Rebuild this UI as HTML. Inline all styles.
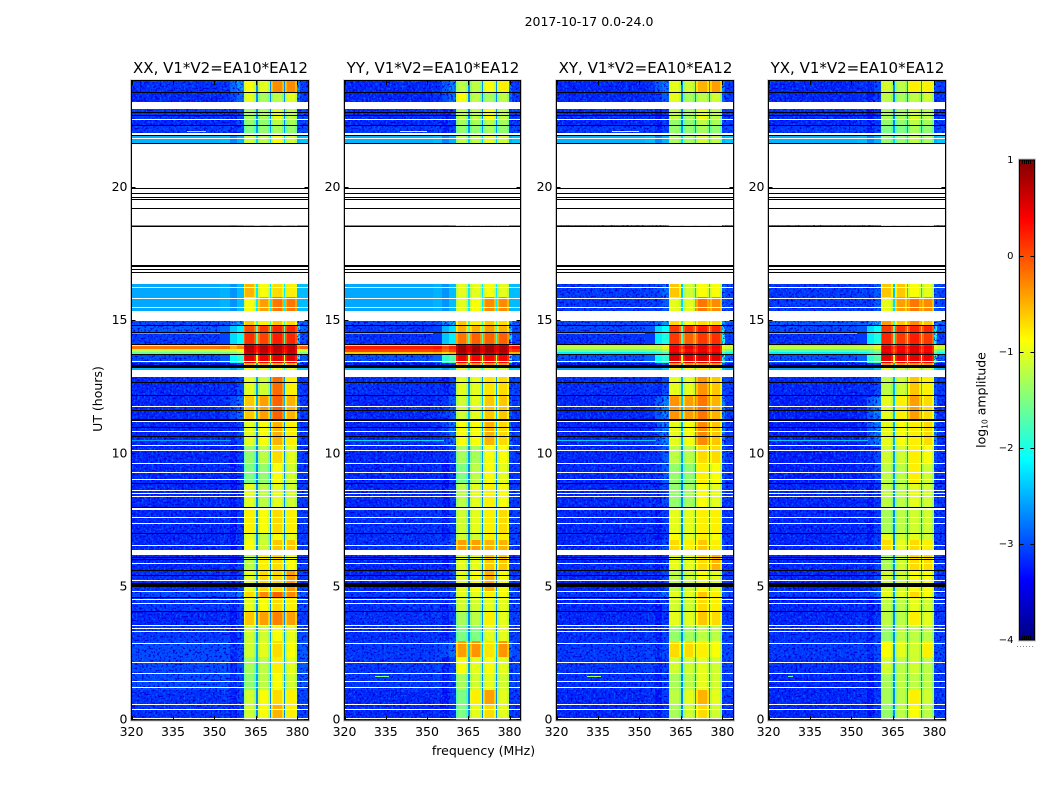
<!DOCTYPE html>
<html lang="en">
<head>
<meta charset="utf-8">
<title>2017-10-17 0.0-24.0</title>
<style>
html,body{margin:0;padding:0;background:#fff;}
svg{display:block;}
text{font-family:"DejaVu Sans","Liberation Sans",sans-serif;fill:#000;}
</style>
</head>
<body>
<svg id="figure" xmlns="http://www.w3.org/2000/svg" width="1050" height="800" viewBox="0 0 1050 800" shape-rendering="crispEdges">
<defs>
<filter id="grain-light" x="0" y="0" width="100%" height="100%" color-interpolation-filters="sRGB">
<feTurbulence type="fractalNoise" baseFrequency="0.5 0.42" numOctaves="2" seed="4"/>
<feColorMatrix type="matrix" values="0 0 0 0 0  0 0 0 0 0.36  0 0 0 0 1  6 0 0 0 -3.1"/>
</filter>
<filter id="grain-dark" x="0" y="0" width="100%" height="100%" color-interpolation-filters="sRGB">
<feTurbulence type="fractalNoise" baseFrequency="0.45 0.5" numOctaves="2" seed="11"/>
<feColorMatrix type="matrix" values="0 0 0 0 0  0 0 0 0 0  0 0 0 0 0.85  0 6 0 0 -3.2"/>
</filter>
</defs>
</svg>
<script>
// ---- categories and axis labels ----
const panelTitles = ["XX, V1*V2=EA10*EA12", "YY, V1*V2=EA10*EA12", "XY, V1*V2=EA10*EA12", "YX, V1*V2=EA10*EA12"];
const freqTicks = [320, 335, 350, 365, 380];
const hourTicks = [0, 5, 10, 15, 20];
const colorbarTicks = [1, 0, -1, -2, -3, -4];

// ---- time bands, hours UT ----
const bandTop    = [24,23.58,22.93,22.57,22.36,21.96,18.59,16.36,15.87,14.98,14.85,14.57,14.12,14.03,13.92,13.84,13.73,13.39,13.28,12.9,12.21,11.31,10.31,9.67,8.92,7.87,7.04,6.75,6.18,5.62,4.86,4.6,4.11,3.55,2.95,2.35,1.78,1.11,0.55];
const bandBottom = [23.58,23.2,22.57,22.36,22.03,21.69,18.53,15.87,15.38,14.85,14.57,14.12,14.03,13.92,13.84,13.73,13.39,13.28,13.15,12.21,11.31,10.31,9.67,8.92,7.98,7.04,6.75,6.37,5.62,4.86,4.6,4.11,3.55,2.95,2.35,1.78,1.11,0.55,0];

// ---- log10 amplitude per band: [below 355 MHz, shoulder, sub-band 1, 2, 3, 4, sub-band gap] ----
const levelsXX = [
[-3.15,-2.6,-0.9,-1.0,-0.3,-0.3,-2.7],[-3.2,-2.8,-1.0,-1.3,-1.2,-1.0,-2.7],[-3.1,-3.0,-1.3,-1.3,-1.0,-1.2,-2.7],[-3.2,-3.0,-1.4,-1.4,-1.2,-1.3,-2.7],[-3.1,-3.0,-1.5,-1.4,-1.3,-1.4,-2.6],
[-2.5,-2.5,-1.1,-1.2,-0.9,-1.1,-2.3],[-2.5,-2.4,-0.4,-0.4,-0.4,-0.4,-1.5],[-2.55,-2.45,-0.5,-0.9,-0.7,-0.8,-2.2],[-2.55,-2.45,-0.9,-0.4,-0.2,-0.2,-2.2],[-3.0,-2.5,-0.6,-0.8,-0.6,-0.7,-1.8],
[-2.9,-2.2,0.0,0.1,0.2,0.2,-1.7],[-3.1,-2.1,0.15,0.05,0.25,0.2,-1.7],[-0.9,-0.6,0.6,0.6,0.7,0.6,0.2],[-0.2,-0.3,0.75,0.75,0.75,0.7,0.3],[-1.2,-0.9,0.7,0.7,0.7,0.65,0.2],
[-1.6,-1.3,0.6,0.6,0.65,0.6,0.0],[-3.0,-1.9,0.5,0.45,0.5,0.5,-1.1],[-3.5,-3.0,-0.5,-0.5,-0.5,-0.5,-2.5],[-2.5,-2.4,-0.9,-1.0,-0.9,-1.0,-2.0],[-3.2,-3.0,-1.0,-1.1,-0.15,-0.8,-2.6],
[-3.2,-2.8,-0.6,-0.4,-0.1,-0.5,-2.5],[-3.2,-3.0,-1.0,-0.9,-0.5,-0.8,-2.7],[-3.2,-3.1,-1.4,-1.2,-0.7,-1.0,-2.7],[-3.2,-3.1,-1.5,-1.4,-0.9,-1.1,-2.7],[-3.2,-3.1,-1.0,-1.2,-1.0,-1.1,-2.7],
[-3.2,-3.1,-0.8,-0.9,-0.7,-0.8,-2.7],[-3.2,-3.1,-1.0,-1.2,-0.9,-1.0,-2.7],[-3.2,-3.1,-0.9,-1.1,-0.6,-0.6,-2.7],[-3.2,-3.1,-1.2,-0.8,-0.7,-0.9,-2.7],[-3.15,-3.0,-1.0,-0.7,-0.7,-0.4,-2.6],
[-3.0,-2.7,-0.7,-0.3,-0.1,-0.3,-2.5],[-3.1,-3.0,-1.0,-0.9,-0.7,-0.8,-2.7],[-3.2,-3.1,-0.6,-0.4,-0.25,-0.4,-2.7],[-3.1,-3.05,-1.1,-1.1,-0.9,-1.0,-2.6],[-3.0,-3.0,-1.1,-1.0,-0.7,-0.9,-2.5],
[-3.0,-3.0,-1.3,-1.2,-0.8,-1.0,-2.5],[-3.0,-3.0,-1.4,-1.2,-0.9,-1.1,-2.6],[-3.15,-3.05,-1.1,-0.9,-0.7,-0.8,-2.7],[-3.15,-3.05,-1.1,-0.9,-0.5,-0.8,-2.7]];
const levelsYY = [
[-3.2,-2.7,-1.2,-1.2,-0.9,-0.8,-2.7],[-3.2,-2.8,-0.9,-1.2,-1.3,-1.2,-2.7],[-3.15,-3.1,-1.2,-1.2,-0.9,-1.2,-2.7],[-3.2,-3.1,-1.3,-1.3,-1.2,-1.3,-2.7],[-3.1,-3.05,-1.4,-1.4,-1.3,-1.4,-2.6],
[-2.5,-2.5,-1.2,-1.2,-1.0,-1.1,-2.3],[-2.5,-2.4,-0.7,-0.7,-0.7,-0.7,-1.5],[-2.55,-2.45,-1.0,-1.0,-0.9,-1.0,-2.2],[-2.55,-2.45,-1.0,-0.9,-0.3,-0.3,-2.2],[-3.0,-2.5,-0.6,-0.8,-0.6,-0.7,-1.8],
[-3.1,-2.3,-0.5,-0.5,-0.4,-0.5,-1.7],[-3.15,-2.2,-0.2,-0.1,-0.1,-0.1,-1.7],[-0.7,-0.6,0.75,0.7,0.75,0.7,0.3],[0.25,0.2,0.85,0.85,0.85,0.8,0.55],[0.05,0.05,0.85,0.85,0.85,0.8,0.5],
[-0.6,-0.5,0.75,0.75,0.75,0.7,0.3],[-2.95,-1.7,0.45,0.4,0.4,0.4,-1.2],[-3.5,-3.0,-0.4,-0.4,-0.4,-0.4,-2.5],[-2.5,-2.4,-1.0,-1.1,-1.0,-1.1,-2.0],[-3.15,-3.05,-1.0,-1.0,-0.75,-0.7,-2.6],
[-3.2,-2.9,-1.1,-1.0,-0.6,-0.6,-2.4],[-3.2,-2.8,-0.9,-0.9,-0.5,-0.7,-2.5],[-3.2,-3.0,-1.3,-1.3,-0.9,-0.9,-2.6],[-3.2,-3.1,-1.5,-1.2,-0.9,-1.0,-2.7],[-3.2,-3.1,-1.2,-1.0,-0.8,-0.9,-2.7],
[-3.15,-3.05,-1.1,-1.0,-0.8,-0.7,-2.7],[-3.15,-3.05,-1.1,-1.1,-0.8,-0.8,-2.7],[-3.15,-2.9,-0.4,-0.4,-0.5,-0.5,-2.6],[-3.2,-3.1,-1.0,-1.0,-0.6,-0.6,-2.7],[-3.2,-3.0,-1.0,-0.9,-0.5,-0.9,-2.7],
[-3.1,-2.9,-1.0,-1.0,-0.8,-0.9,-2.6],[-3.15,-3.05,-1.1,-1.1,-1.0,-1.0,-2.7],[-3.15,-3.05,-1.3,-1.2,-0.8,-1.0,-2.7],[-3.15,-3.05,-1.5,-1.5,-1.0,-1.0,-2.7],[-3.1,-2.8,-0.4,-0.35,-0.75,-0.35,-2.4],
[-3.1,-3.05,-0.9,-1.0,-0.9,-1.0,-2.6],[-3.1,-3.05,-1.3,-1.1,-1.0,-1.1,-2.7],[-3.2,-3.1,-1.5,-0.8,-0.4,-1.0,-2.7],[-3.2,-3.1,-1.5,-1.0,-0.7,-1.0,-2.7]];
const levelsXY = [
[-3.2,-2.7,-1.0,-1.1,-0.5,-0.4,-2.7],[-3.2,-2.9,-1.0,-1.3,-1.2,-1.1,-2.7],[-3.15,-3.1,-1.2,-1.3,-1.0,-1.2,-2.7],[-3.2,-3.1,-1.4,-1.4,-1.2,-1.3,-2.7],[-3.1,-3.05,-1.4,-1.4,-1.3,-1.4,-2.6],
[-2.5,-2.5,-1.3,-1.3,-1.1,-1.2,-2.3],[-2.7,-2.5,-0.9,-0.9,-0.9,-0.9,-1.6],[-3.1,-2.8,-0.6,-1.1,-0.9,-0.9,-2.4],[-3.1,-2.9,-1.0,-1.0,-0.2,-0.3,-2.3],[-3.0,-2.6,-0.7,-0.9,-0.7,-0.7,-1.9],
[-3.0,-2.1,0.1,0.15,0.25,0.2,-1.8],[-3.15,-2.0,0.1,-0.1,0.1,0.15,-1.8],[-1.3,-1.0,0.3,0.3,0.4,0.3,-0.2],[-1.2,-1.0,0.45,0.5,0.5,0.4,0.0],[-1.6,-1.3,0.4,0.35,0.45,0.35,-0.2],
[-2.2,-1.8,0.6,0.55,0.6,0.55,0.1],[-2.95,-1.9,0.55,0.5,0.55,0.5,-1.0],[-3.5,-3.0,-0.4,-0.4,-0.4,-0.4,-2.5],[-2.6,-2.4,-0.8,-0.9,-0.8,-0.9,-2.0],[-3.15,-3.0,-1.0,-1.0,-0.35,-0.6,-2.5],
[-3.2,-2.7,-0.35,-0.4,-0.2,-0.5,-2.4],[-3.2,-2.7,-1.0,-0.9,-0.3,-0.6,-2.5],[-3.2,-2.9,-1.2,-1.2,-0.7,-0.7,-2.6],[-3.2,-2.9,-1.4,-1.4,-0.8,-0.9,-2.6],[-3.2,-3.0,-1.4,-1.3,-0.9,-1.0,-2.7],
[-3.2,-3.1,-1.0,-1.0,-0.8,-0.8,-2.7],[-3.2,-3.1,-0.9,-1.0,-0.8,-0.9,-2.7],[-3.2,-3.0,-0.7,-0.8,-0.6,-0.8,-2.7],[-3.2,-3.1,-1.0,-1.0,-0.7,-0.5,-2.7],[-3.2,-3.0,-1.2,-1.1,-0.9,-1.0,-2.7],
[-3.1,-2.8,-1.0,-1.0,-0.6,-0.8,-2.6],[-3.2,-3.1,-1.1,-1.1,-0.7,-0.8,-2.7],[-3.2,-3.1,-1.0,-1.0,-0.6,-0.7,-2.7],[-3.15,-3.05,-1.4,-1.3,-1.2,-1.2,-2.7],[-3.1,-3.0,-0.7,-0.7,-0.8,-0.9,-2.5],
[-3.1,-3.05,-1.1,-1.1,-1.0,-1.1,-2.6],[-3.15,-3.05,-1.3,-1.2,-1.0,-1.1,-2.7],[-3.2,-3.1,-1.2,-1.0,-0.5,-1.0,-2.7],[-3.2,-3.1,-1.3,-1.1,-0.7,-1.1,-2.7]];
const levelsYX = [
[-3.2,-3.0,-1.1,-1.2,-0.8,-0.8,-2.7],[-3.2,-3.1,-1.2,-1.3,-1.2,-1.1,-2.7],[-3.15,-3.1,-1.3,-1.3,-1.1,-1.2,-2.7],[-3.2,-3.1,-1.4,-1.4,-1.2,-1.3,-2.7],[-3.1,-3.05,-1.5,-1.5,-1.3,-1.4,-2.6],
[-2.5,-2.5,-1.4,-1.4,-1.2,-1.3,-2.3],[-2.7,-2.5,-0.9,-0.9,-0.9,-0.9,-1.6],[-3.1,-2.9,-0.6,-0.6,-0.9,-1.0,-2.4],[-3.1,-2.9,-1.0,-0.4,-0.2,-0.3,-2.3],[-2.9,-2.5,-0.4,-0.6,-0.3,-0.6,-1.9],
[-3.0,-2.1,0.1,0.15,0.2,0.2,-1.8],[-3.15,-2.0,0.2,0.1,0.25,0.1,-1.7],[-1.5,-1.1,0.25,0.25,0.35,0.25,-0.3],[-1.2,-1.0,0.5,0.45,0.55,0.4,0.0],[-1.7,-1.4,0.45,0.4,0.5,0.35,-0.2],
[-2.2,-1.7,0.55,0.5,0.6,0.5,0.0],[-2.95,-1.7,0.5,0.45,0.5,0.45,-1.0],[-3.5,-3.0,-0.4,-0.4,-0.4,-0.4,-2.5],[-2.6,-2.4,-1.0,-1.1,-1.0,-1.1,-2.0],[-3.2,-3.0,-1.2,-1.1,-0.6,-0.8,-2.5],
[-3.25,-2.7,-1.0,-0.8,-0.4,-0.7,-2.4],[-3.25,-2.7,-1.0,-0.9,-0.8,-0.7,-2.5],[-3.25,-3.0,-1.1,-1.1,-0.8,-0.9,-2.6],[-3.25,-3.0,-1.2,-1.2,-0.8,-1.1,-2.6],[-3.2,-3.1,-1.2,-1.2,-1.0,-1.1,-2.7],
[-3.2,-3.1,-1.3,-1.2,-1.1,-1.1,-2.7],[-3.2,-3.1,-1.0,-1.1,-1.0,-1.1,-2.7],[-3.2,-3.0,-0.7,-1.0,-0.7,-0.8,-2.7],[-3.2,-3.1,-1.3,-1.1,-0.7,-0.7,-2.7],[-3.2,-3.0,-1.1,-1.1,-0.9,-0.9,-2.7],
[-3.1,-2.8,-1.0,-1.0,-0.7,-0.9,-2.6],[-3.2,-3.1,-1.2,-1.2,-1.0,-1.1,-2.7],[-3.2,-3.1,-1.2,-1.2,-0.8,-1.0,-2.7],[-3.15,-3.05,-1.4,-1.2,-1.2,-1.2,-2.7],[-3.1,-3.0,-0.9,-1.0,-1.1,-0.8,-2.6],
[-3.15,-3.05,-1.1,-1.2,-1.1,-1.2,-2.6],[-3.2,-3.1,-1.3,-1.2,-1.2,-1.2,-2.7],[-3.2,-3.1,-1.3,-1.2,-0.8,-1.1,-2.7],[-3.2,-3.1,-1.4,-1.2,-0.9,-1.2,-2.7]];
const panelLevels = [levelsXX, levelsYY, levelsXY, levelsYX];

// ---- frequency columns (MHz) ----
const columnStart = [320,352,355.5,358,360.5,361.2,364.3,365,365.6,366.3,369.2,369.9,370.5,371.2,374.3,375,375.6,376.3,379.1,379.8,381];
const columnEnd   = [352,355.5,358,360.5,361.2,364.3,365,365.6,366.3,369.2,369.9,370.5,371.2,374.3,375,375.6,376.3,379.1,379.8,381,384];
const columnLevel = [0,0,1,1,2,2,2,6,3,3,3,6,4,4,4,6,5,5,5,1,0];
const columnTrim  = [0,0.05,-0.2,0,-0.25,0,-0.25,0,-0.25,0,-0.25,0,-0.25,0,-0.25,0,-0.25,0,-0.25,0,0.1];

// ---- flagged (empty) time ranges, hours ----
const flaggedTop    = [23.2,22.03,21.69,18.53,15.38,13.15,7.98,6.37];
const flaggedBottom = [22.93,21.96,18.59,16.36,14.98,12.9,7.87,6.18];
const flaggedLineHours = [22.57,21.87,16.25,15.86,15.53,13.5,11.81,11.22,10.84,10.31,10.15,9.67,9.31,9.06,8.62,8.53,8.43,7.64,7.39,6.58,5.89,5.24,4.86,4.56,4.38,3.55,3.46,3.36,2.9,2.17,1.76,1.46,1.25,0.61,0.42,0.08];
// ---- dead integrations drawn black: hour and thickness in pixels of a row ----
const deadHours = [23.59,22.82,22.74,22.36,21.96,21.66,19.99,19.79,19.64,19.55,19.24,18.55,17.08,16.95,16.81,14.85,14.57,14.13,13.75,13.34,12.69,12.21,11.65,11.31,11.0,10.67,8.91,7.99,7.02,6.14,6.04,5.64,5.45,5.15,4.61,4.1];
const deadRows  = [1,1,1,1,1,1,1,1,1,1,1,1,2,1,1,1,1,1,1,3,1,1,1,2,1,1,1,1,1,1,1,1,1,4,1,1];

// ---- narrow-band interference streaks ----
const rfiPanel = [0,1,2,3,0,1,2,3,1,2,0,1,2,3];
const rfiHour  = [14.52,14.52,14.52,14.52,10.5,10.5,10.5,10.5,22.13,22.13,22.13,1.64,1.64,1.64];
const rfiFrom  = [320,320,320,320,320,320,320,320,340,340,340,331,331,327];
const rfiTo    = [352,352,352,352,356,356,356,356,350,350,347,336,336,329];
const rfiLevel = [-2.4,-2.3,-2.4,-2.2,-2.6,-2.3,-2.4,-2.4,-0.9,-0.9,-1.6,-1.5,-1.3,-1.7];

// ---- layout ----
const panelLeft = [131.5, 344.5, 556.5, 768.5];
const panelWidths = [177, 176, 177, 177];
const plotTop = 81;
const plotBottom = 720;
const SVGNS = "http://www.w3.org/2000/svg";
const figure = document.getElementById("figure");

function clamp01(v) { return Math.max(0, Math.min(1, v)); }
function jet(level) {
  const t = clamp01((level + 4) / 5);
  const r = clamp01(1.5 - Math.abs(4 * t - 3));
  const g = clamp01(1.5 - Math.abs(4 * t - 2));
  const b = clamp01(1.5 - Math.abs(4 * t - 1));
  return "rgb(" + Math.round(r * 255) + "," + Math.round(g * 255) + "," + Math.round(b * 255) + ")";
}
function xScale(panel, mhz) { return panelLeft[panel] + (mhz - 320) * panelWidths[panel] / 64; }
function yScale(hour) { return plotBottom - hour * (plotBottom - plotTop) / 24; }
function cbScale(level) { return 160 + (1 - level) * 96; }
function make(parent, tag, attrs) {
  const el = document.createElementNS(SVGNS, tag);
  for (const k in attrs) el.setAttribute(k, attrs[k]);
  parent.appendChild(el);
  return el;
}

panelTitles.forEach(function (title, p) {
  const levels = panelLevels[p];
  const left = panelLeft[p];
  const panelWidth = panelWidths[p];
  const right = left + panelWidth;
  const g = make(figure, "g", {});
  
  

  // heatmap cells
  const cells = make(g, "g", {});
  
  
  bandTop.forEach(function (top, b) {
    const row = levels[b];
    const y0 = Math.round(yScale(top));
    const y1 = Math.max(y0 + 1, Math.round(yScale(bandBottom[b])));
    columnStart.forEach(function (f0, c) {
      const x0 = Math.round(xScale(p, f0));
      const x1 = Math.round(xScale(p, columnEnd[c]));
      const rect = make(cells, "rect", { x: x0, y: y0, width: x1 - x0, height: y1 - y0, fill: jet(row[columnLevel[c]] + columnTrim[c]) });
      
      
    });
  });

  // receiver noise texture on the quiet part of the band
  const clip = make(g, "clipPath", { id: "quiet-" + p });
  bandTop.forEach(function (top, b) {
    if (levels[b][0] > -2.7) return;
    const y0 = Math.round(yScale(top));
    const y1 = Math.round(yScale(bandBottom[b]));
    const stopFreq = levels[b][1] > -2.5 ? 352 : 360.5;
    make(clip, "rect", { x: left, y: y0, width: xScale(p, stopFreq) - left, height: y1 - y0 });
    make(clip, "rect", { x: xScale(p, 379.8), y: y0, width: right - xScale(p, 379.8), height: y1 - y0 });
  });
  const texture = make(g, "g", { "clip-path": "url(#quiet-" + p + ")" });
  
  
  const lightGrain = make(texture, "rect", { x: left, y: plotTop, width: panelWidth, height: plotBottom - plotTop, filter: "url(#grain-light)" });
  
  
  const darkGrain = make(texture, "rect", { x: left, y: plotTop, width: panelWidth, height: plotBottom - plotTop, filter: "url(#grain-dark)" });
  
  

  // interference streaks
  rfiHour.forEach(function (hour, i) {
    if (rfiPanel[i] !== p) return;
    const x0 = Math.round(xScale(p, rfiFrom[i]));
    const x1 = Math.round(xScale(p, rfiTo[i]));
    const streak = make(g, "rect", { x: x0, y: Math.round(yScale(hour)), width: x1 - x0, height: 1, fill: jet(rfiLevel[i]) });
    
    
  });

  // flagged ranges
  flaggedTop.forEach(function (top, i) {
    const y0 = Math.round(yScale(top));
    const y1 = Math.round(yScale(flaggedBottom[i]));
    const band = make(g, "rect", { x: Math.round(left), y: y0, width: panelWidth, height: y1 - y0, fill: "#fff" });
    
    
  });
  flaggedLineHours.forEach(function (hour) {
    const line = make(g, "rect", { x: Math.round(left), y: Math.round(yScale(hour)), width: panelWidth, height: 1, fill: "#fff" });
    
    
  });
  deadHours.forEach(function (hour, i) {
    const line = make(g, "rect", { x: Math.round(left), y: Math.round(yScale(hour)), width: panelWidth, height: deadRows[i], fill: "#000" });
    
    
  });

  // frame
  const halo = make(g, "rect", { x: left - 1, y: plotTop - 1, width: panelWidth + 2, height: plotBottom - plotTop + 2, fill: "none", stroke: "#c4c4c4", "stroke-width": 1 });
  
  
  const frame = make(g, "rect", { x: left, y: plotTop - 0.5, width: panelWidth, height: plotBottom - plotTop + 0.5, fill: "none", stroke: "#000", "stroke-width": 1 });
  
  

  // x ticks
  freqTicks.forEach(function (f) {
    const x = Math.round(xScale(p, f)) + 0.5;
    const tb = make(g, "line", { x1: x, x2: x, y1: plotBottom, y2: plotBottom - 4, stroke: "#000" });
    
    
    const tt = make(g, "line", { x1: x, x2: x, y1: plotTop, y2: plotTop + 4, stroke: "#000" });
    
    
    const label = make(g, "text", { x: xScale(p, f), y: 736, "font-size": 12.5, "text-anchor": "middle" });
    label.textContent = f;
    
    
  });
  // y ticks
  hourTicks.forEach(function (h) {
    const y = Math.round(yScale(h)) - 0.5;
    const tl = make(g, "line", { x1: left, x2: left + 4, y1: y, y2: y, stroke: "#000" });
    
    
    const tr = make(g, "line", { x1: right, x2: right - 4, y1: y, y2: y, stroke: "#000" });
    
    
    const label = make(g, "text", { x: left - 4, y: yScale(h) + 3.5, "font-size": 12.5, "text-anchor": "end" });
    label.textContent = h;
    
    
  });
  const head = make(g, "text", { x: left + panelWidth / 2 + 0.5, y: 73, "font-size": 15, "text-anchor": "middle" });
  head.textContent = title;
  
  
});

// figure labels
const suptitle = make(figure, "text", { x: 589, y: 26, "font-size": 12.5, "text-anchor": "middle" });
suptitle.textContent = "2017-10-17 0.0-24.0";


const xTitle = make(figure, "text", { x: 483.5, y: 755, "font-size": 12.5, "text-anchor": "middle" });
xTitle.textContent = "frequency (MHz)";


const yTitle = make(figure, "text", { x: 0, y: 0, "font-size": 12.5, "text-anchor": "middle", transform: "translate(102 399) rotate(-90)" });
yTitle.textContent = "UT (hours)";



// colorbar
const cb = make(figure, "g", {});


const cbLeft = 1019.5;
const cbWidth = 15;
for (let i = 0; i < 240; i++) {
  const lv = 1 - (i + 0.5) / 48;
  const y0 = 160 + i * 2;
  const sw = make(cb, "rect", { x: cbLeft, y: y0, width: cbWidth, height: 2, fill: jet(lv) });
  
  
}
const cbHalo = make(cb, "rect", { x: cbLeft - 1, y: 159, width: cbWidth + 2, height: 482, fill: "none", stroke: "#c4c4c4" });


const cbFrame = make(cb, "rect", { x: cbLeft, y: 160, width: cbWidth, height: 480, fill: "none", stroke: "#000" });


colorbarTicks.forEach(function (t) {
  const y = Math.round(cbScale(t)) + 0.5;
  if (t < 1 && t > -4) {
    const a = make(cb, "line", { x1: cbLeft, x2: cbLeft + 4, y1: y, y2: y, stroke: "#000" });
    
    
    const d = make(cb, "line", { x1: cbLeft + cbWidth, x2: cbLeft + cbWidth - 4, y1: y, y2: y, stroke: "#000" });
    
    
  }
  const lab = make(cb, "text", { x: 1013.5, y: cbScale(t) + 3, "font-size": 10, "text-anchor": "end" });
  lab.textContent = String(t).replace("-", "\u2212");
  
  
});
for (let i = 0; i < 5; i++) {
  const x = cbLeft + 3 + i * 2;
  const top = make(cb, "line", { x1: x, x2: x, y1: 160, y2: 164, stroke: "#000" });
  
  
  const bot = make(cb, "line", { x1: x, x2: x, y1: 640, y2: 636, stroke: "#000" });
  
  
}
const dots = make(cb, "line", { x1: 1017, x2: 1035, y1: 646.5, y2: 646.5, stroke: "#888", "stroke-dasharray": "1 2" });


const cbTitle = make(cb, "text", { x: 0, y: 0, "font-size": 12.5, "text-anchor": "middle", transform: "translate(985.5 400) rotate(-90)" });


const t1 = make(cbTitle, "tspan", {});
t1.textContent = "log";
const t2 = make(cbTitle, "tspan", { "font-size": 7.5, dy: 2 });
t2.textContent = "10";
const t3 = make(cbTitle, "tspan", { dy: -2 });
t3.textContent = " amplitude";
</script>
</body>
</html>
